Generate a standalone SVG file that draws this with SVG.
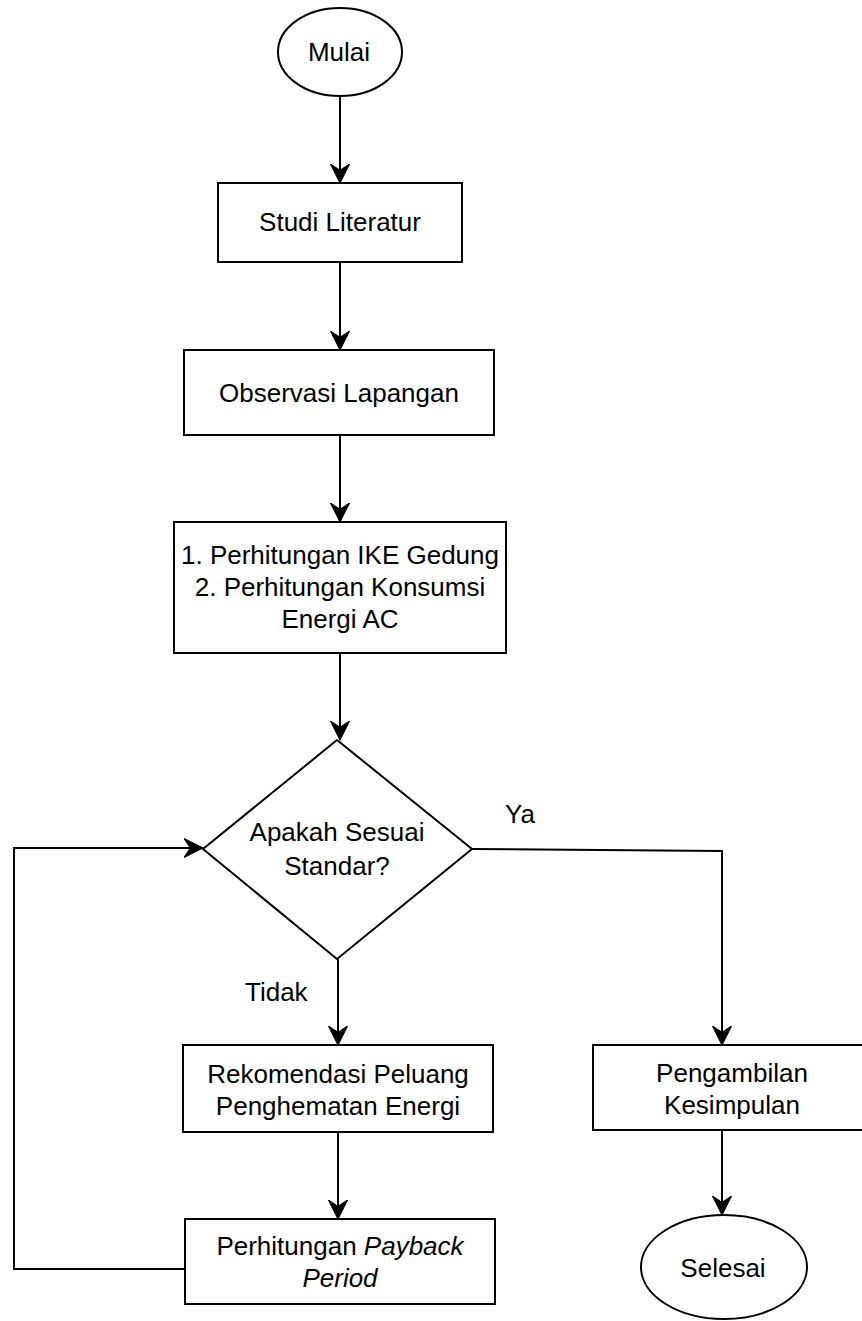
<svg xmlns="http://www.w3.org/2000/svg" width="862" height="1321" viewBox="0 0 862 1321">
<style>
.shape{fill:#fff;stroke:#000;stroke-width:2}
.edge{fill:none;stroke:#000;stroke-width:2}
text{font-family:"Liberation Sans",Arial,sans-serif;font-size:26px;fill:#000;text-anchor:middle}
.lbl{text-anchor:start}
</style>
<defs>
<marker id="arr" markerUnits="userSpaceOnUse" markerWidth="20" markerHeight="20" viewBox="-18 -9 19 18" refX="0" refY="0" orient="auto">
<path d="M0,0 L-18,-9 L-12,0 L-18,9 Z" fill="#000" stroke="#000" stroke-width="1"/>
</marker>
</defs>
<rect width="862" height="1321" fill="#fff"/>
<g id="connectors">
<path class="edge" d="M340,97 L340,183" marker-end="url(#arr)"/>
<path class="edge" d="M340,262 L340,350" marker-end="url(#arr)"/>
<path class="edge" d="M340,435 L340,522" marker-end="url(#arr)"/>
<path class="edge" d="M340,653 L340,740" marker-end="url(#arr)"/>
<path class="edge" d="M338,959 L338,1045" marker-end="url(#arr)"/>
<path class="edge" d="M338,1132 L338,1219" marker-end="url(#arr)"/>
<path class="edge" d="M185,1269 L14,1269 L14,848 L203,848" marker-end="url(#arr)"/>
<path class="edge" d="M472,849 L722,851 L722,1045" marker-end="url(#arr)"/>
<path class="edge" d="M722,1130 L722,1215" marker-end="url(#arr)"/>
<text class="lbl" x="505" y="823">Ya</text>
<text class="lbl" x="245" y="1001">Tidak</text>
</g>
<g id="mulai">
<ellipse class="shape" cx="340" cy="52" rx="62" ry="44"/>
<text x="339" y="61">Mulai</text>
</g>
<g id="studi">
<rect class="shape" x="218" y="183" width="244" height="79"/>
<text x="340" y="231">Studi Literatur</text>
</g>
<g id="observasi">
<rect class="shape" x="184" y="350" width="310" height="85"/>
<text x="339" y="402">Observasi Lapangan</text>
</g>
<g id="perhitungan">
<rect class="shape" x="174" y="522" width="332" height="131"/>
<text x="340" y="564">1. Perhitungan IKE Gedung</text>
<text x="340" y="596">2. Perhitungan Konsumsi</text>
<text x="340" y="628">Energi AC</text>
</g>
<g id="keputusan">
<polygon class="shape" points="337,740 472,849 337,959 203,849"/>
<text x="337" y="841">Apakah Sesuai</text>
<text x="337" y="875">Standar?</text>
</g>
<g id="rekomendasi">
<rect class="shape" x="183" y="1045" width="310" height="87"/>
<text x="338" y="1083">Rekomendasi Peluang</text>
<text x="338" y="1115">Penghematan Energi</text>
</g>
<g id="payback">
<rect class="shape" x="185" y="1219" width="310" height="85"/>
<text x="340" y="1255">Perhitungan <tspan font-style="italic">Payback</tspan></text>
<text x="340" y="1287" font-style="italic">Period</text>
</g>
<g id="pengambilan">
<rect class="shape" x="593" y="1045" width="280" height="85"/>
<text x="732" y="1082">Pengambilan</text>
<text x="732" y="1114">Kesimpulan</text>
</g>
<g id="selesai">
<ellipse class="shape" cx="724" cy="1267" rx="83" ry="52"/>
<text x="723" y="1277">Selesai</text>
</g>
</svg>
